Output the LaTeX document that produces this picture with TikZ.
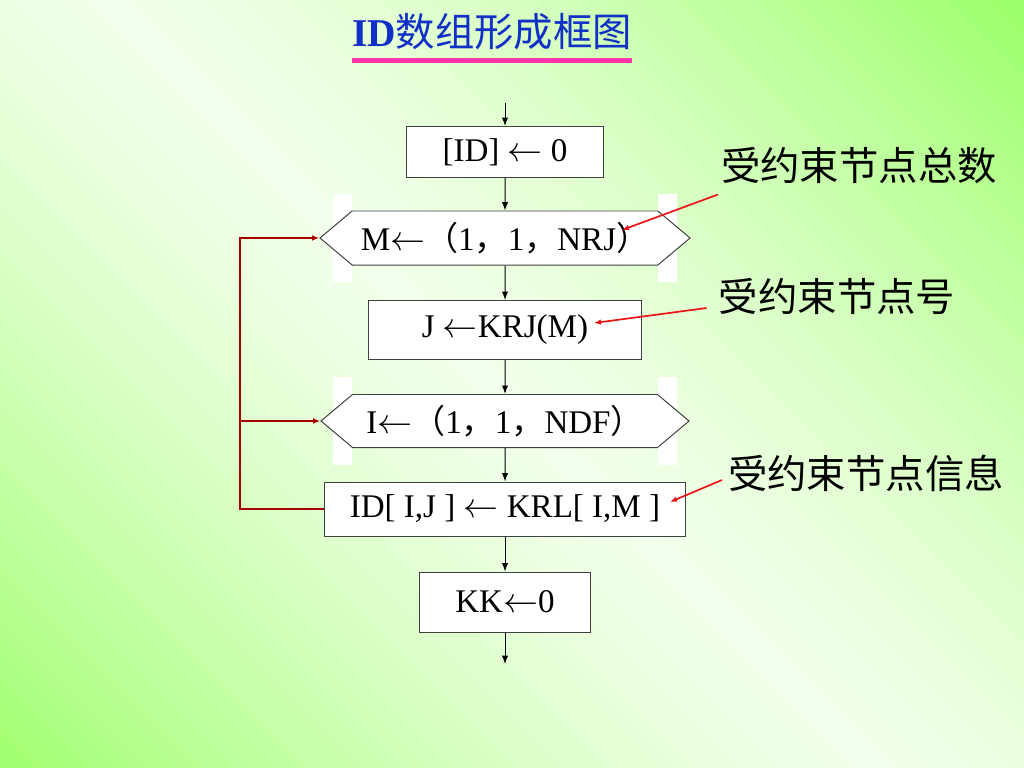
\documentclass[tikz,border=0pt]{standalone}
\usepackage{fontspec}
\setmainfont{Liberation Serif}
\newfontfamily\cjk{Noto Sans CJK SC}
\usetikzlibrary{shapes.symbols, arrows.meta}

\definecolor{bggreen}{RGB}{156,255,106}
\definecolor{bgpale}{RGB}{242,255,234}
\definecolor{titleblue}{RGB}{16,48,200}
\definecolor{rulepink}{RGB}{255,51,170}
\definecolor{loopred}{RGB}{165,0,0}
\definecolor{notered}{RGB}{235,20,20}

\tikzset{
    box/.style = {draw = black!75, fill = white, line width = 0.7pt, inner sep = 0pt, font = \fontsize{23.5}{27}\selectfont},
    hexbox/.style = {box, signal, signal to = west and east, signal pointer angle = 80},
    whitebar/.style = {fill = white, minimum width = 0.475cm, minimum height = 2.175cm, inner sep = 0pt},
    flow/.style = {-{Latex[length = 6pt, width = 4.5pt]}, line width = 0.7pt},
    loopline/.style = {draw = loopred, line width = 1.3pt, -{Latex[length = 5pt, width = 4pt]}},
    notearrow/.style = {-{Latex[length = 5pt, width = 4pt]}, draw = notered, line width = 1.2pt},
    notetext/.style = {inner sep = 0pt, font = \cjk\fontsize{28}{32}\selectfont}
}

\newcommand{\fw}[1]{{\cjk #1}}
\newcommand{\la}{$\leftarrow$}

\begin{document}
\begin{tikzpicture}[x = 0.025cm, y = -0.025cm]
    \useasboundingbox (0,0) rectangle (1024,768);
    \begin{scope}
        \clip (0,0) rectangle (1024,768);
        \foreach \s in {-776,-768,...,1024} {
            \pgfmathsetmacro{\mix}{min(100, 100 * (abs(\s + 4 - 110) / 900)^1.4)}
            \fill[bggreen!\mix!bgpale] (\s,0) -- (\s + 10,0) -- (\s + 778,768) -- (\s + 768,768) -- cycle;
        }
    \end{scope}

    \node[inner sep = 0pt, text = titleblue, font = \fontsize{28}{32}\selectfont] (title) at (492,32) {\textbf{ID}\fw{数组形成框图}};
    \draw[rulepink, line width = 3pt] ([yshift = -7pt]title.south west) -- ([yshift = -7pt]title.south east);

    \node[whitebar] (barA) at (342,238) {};
    \node[whitebar] (barB) at (667,238) {};
    \node[whitebar] (barC) at (342,421) {};
    \node[whitebar] (barD) at (667,421) {};

    \coordinate (start) at (505,103);
    \node[box, minimum width = 4.925cm, minimum height = 1.275cm] (init) at (505,152) {[ID] \la{} 0};
    \node[hexbox, minimum width = 9.25cm, minimum height = 1.35cm] (loopM) at (505,238) {M\la\fw{（}1\fw{，}1\fw{，}NRJ\fw{）}};
    \node[box, minimum width = 6.8cm, minimum height = 1.475cm] (getJ) at (505,330) {J \la KRJ(M)};
    \node[hexbox, minimum width = 9.2cm, minimum height = 1.325cm] (loopI) at (505,421) {I\la\fw{（}1\fw{，}1\fw{，}NDF\fw{）}};
    \node[box, minimum width = 9cm, minimum height = 1.35cm] (assign) at (505,509) {ID[ I,J ] \la{} KRL[ I,M ]};
    \node[box, minimum width = 4.25cm, minimum height = 1.5cm] (reset) at (505,602) {KK\la 0};
    \coordinate (finish) at (505,664);

    \draw[flow] (start) -- (init);
    \draw[flow] (init) -- (loopM);
    \draw[flow] (loopM) -- (getJ);
    \draw[flow] (getJ) -- (loopI);
    \draw[flow] (loopI) -- (assign);
    \draw[flow] (assign) -- (reset);
    \draw[flow] (reset) -- (finish);

    \coordinate (back) at (240,509);
    \draw[loopline] (assign.west) -- (back) |- (loopM.west);
    \draw[loopline, line width = 0.9pt] (back |- loopI.west) -- (loopI.west);

    \node[notetext] (labA) at (859,166) {受约束节点总数};
    \node[notetext] (labB) at (837,296) {受约束节点号};
    \node[notetext] (labC) at (866,473) {受约束节点信息};

    \coordinate (tipA) at (622,230);
    \coordinate (tipB) at (594,323);
    \coordinate (tipC) at (670,502);

    \draw[notearrow] ([shift = {(-3,10)}]labA.south west) -- (tipA);
    \draw[notearrow] ([shift = {(-12,12)}]labB.west) -- (tipB);
    \draw[notearrow] ([shift = {(-6,7)}]labC.west) -- (tipC);
\end{tikzpicture}
\end{document}
